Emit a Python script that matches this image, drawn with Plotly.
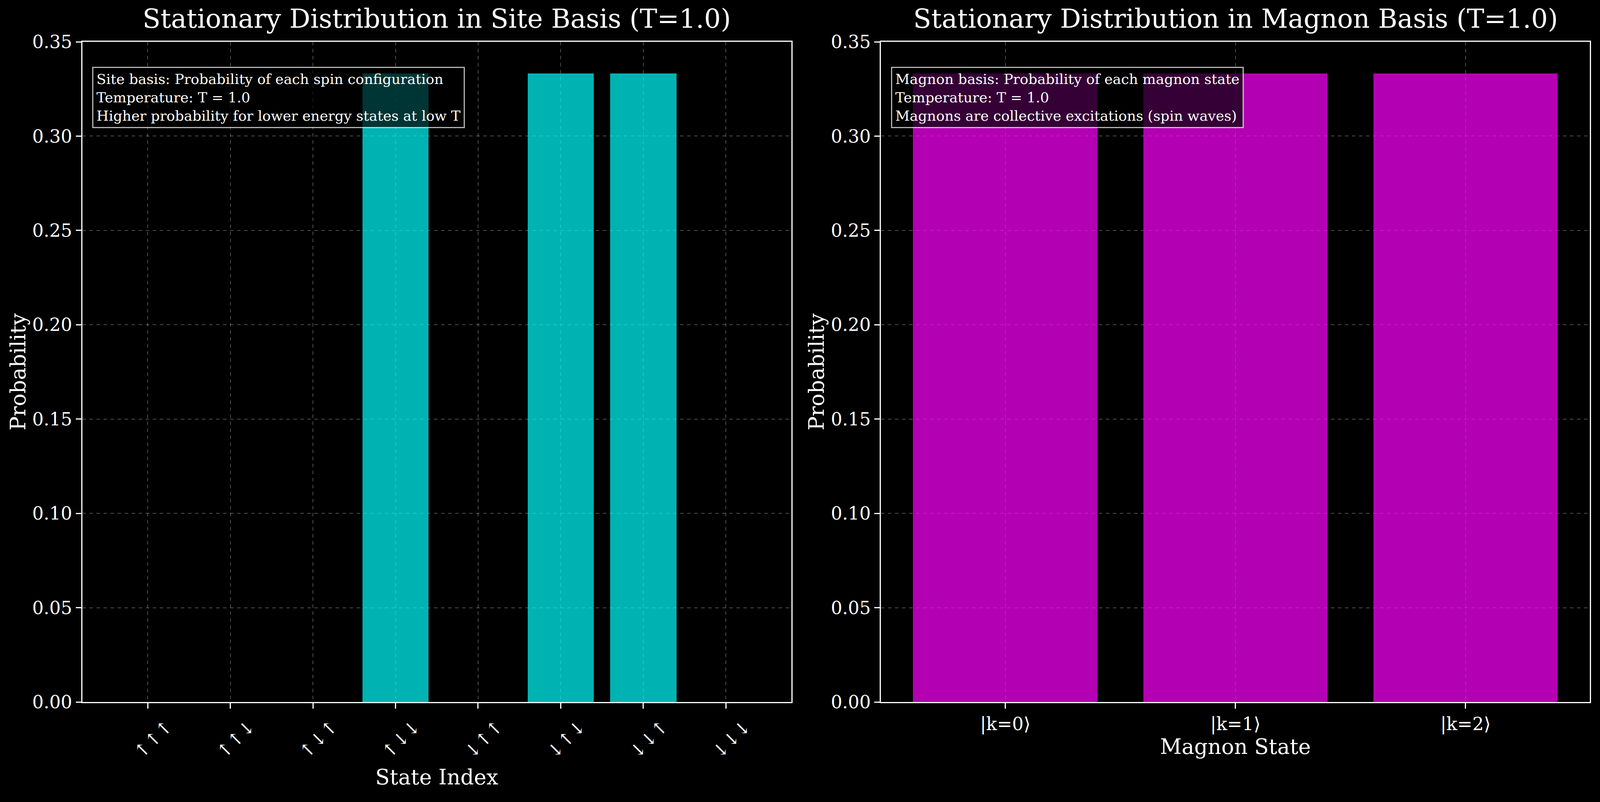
import plotly.graph_objects as go
from plotly.subplots import make_subplots

# site basis: 3-spin configurations
site_labels = ["↑↑↑", "↑↑↓", "↑↓↑", "↑↓↓", "↓↑↑", "↓↑↓", "↓↓↑", "↓↓↓"]
site_probs = [0.0, 0.0, 0.0, 0.3333, 0.0, 0.3333, 0.3333, 0.0]

# magnon basis
magnon_labels = ["|k=0⟩", "|k=1⟩", "|k=2⟩"]
magnon_probs = [0.3333, 0.3333, 0.3333]

temperature = 1.0

FONT = "DejaVu Serif"
grid = "rgba(255,255,255,0.3)"

# the capture is only 4096 px wide, so squeeze horizontally, keep full height
W, H = 4096, 2053
SX = W / 4752

fig = make_subplots(rows=1, cols=2, horizontal_spacing=0.0596)

fig.add_trace(go.Bar(x=list(range(len(site_labels))), y=site_probs, width=0.8,
                     marker=dict(color="rgba(0,255,255,0.7)", line=dict(width=0))),
              row=1, col=1)
fig.add_trace(go.Bar(x=list(range(len(magnon_labels))), y=magnon_probs, width=0.8,
                     marker=dict(color="rgba(255,0,255,0.7)", line=dict(width=0))),
              row=1, col=2)

axis_style = dict(showline=True, linecolor="white", linewidth=3, mirror=True,
                  ticks="outside", ticklen=14, tickwidth=3, tickcolor="white",
                  showgrid=True, gridcolor=grid, gridwidth=2, griddash="dash",
                  zeroline=False, tickfont=dict(family=FONT, size=46, color="white"))

n_site = len(site_labels)
n_mag = len(magnon_labels)
fig.update_xaxes(axis_style)
fig.update_yaxes(axis_style)

fig.update_xaxes(row=1, col=1, tickvals=list(range(n_site)), ticktext=site_labels,
                 tickangle=-45, ticklabelshift=50, range=[-0.79, n_site - 0.21],
                 title=dict(text="State Index", standoff=20,
                            font=dict(family=FONT, size=54, color="white")))
fig.update_xaxes(row=1, col=2, tickvals=list(range(n_mag)), ticktext=magnon_labels,
                 range=[-0.54, n_mag - 0.46],
                 title=dict(text="Magnon State", standoff=8,
                            font=dict(family=FONT, size=54, color="white")))
fig.update_yaxes(range=[0, 0.35], dtick=0.05, tickformat=".2f",
                 title=dict(text="Probability", standoff=0,
                            font=dict(family=FONT, size=54, color="white")))

titles = [f"Stationary Distribution in Site Basis (T={temperature})",
          f"Stationary Distribution in Magnon Basis (T={temperature})"]
boxes = [
    "Site basis: Probability of each spin configuration<br>"
    f"Temperature: T = {temperature}<br>"
    "Higher probability for lower energy states at low T",
    "Magnon basis: Probability of each magnon state<br>"
    f"Temperature: T = {temperature}<br>"
    "Magnons are collective excitations (spin waves)",
]
for i, (t, b) in enumerate(zip(titles, boxes)):
    xr = "x domain" if i == 0 else "x2 domain"
    yr = "y domain" if i == 0 else "y2 domain"
    fig.add_annotation(text=t, xref=xr, yref=yr, x=0.5, y=1.0, xanchor="center",
                       yanchor="bottom", yshift=18, showarrow=False,
                       font=dict(family=FONT, size=67, color="white"))
    fig.add_annotation(text=b, xref=xr, yref=yr, x=0.014, y=0.962, xanchor="left",
                       yanchor="top", align="left", showarrow=False,
                       bgcolor="rgba(0,0,0,0.7)", bordercolor="rgba(255,255,255,0.7)",
                       borderwidth=3, borderpad=8,
                       font=dict(family=FONT, size=36, color="white"))

fig.update_layout(width=W, height=H, showlegend=False,
                  plot_bgcolor="black", paper_bgcolor="black",
                  bargap=0, font=dict(family=FONT, color="white"),
                  margin=dict(l=round(245 * SX), r=round(30 * SX), t=107, b=256))

fig.write_html("out.html", config={"displayModeBar": False},
               post_script="document.body.style.margin='0';"
                           "document.body.style.background='black';")
